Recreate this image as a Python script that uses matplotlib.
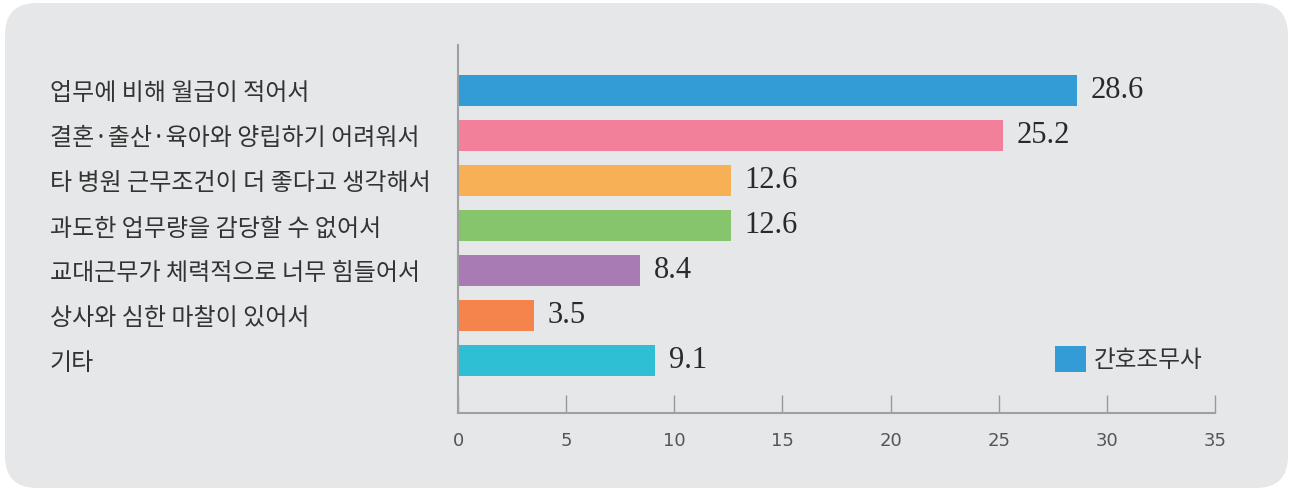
import matplotlib.pyplot as plt
from matplotlib.patches import FancyBboxPatch, Patch

# data
categories = [
    '업무에 비해 월급이 적어서',
    '결혼·출산·육아와 양립하기 어려워서',
    '타 병원 근무조건이 더 좋다고 생각해서',
    '과도한 업무량을 감당할 수 없어서',
    '교대근무가 체력적으로 너무 힘들어서',
    '상사와 심한 마찰이 있어서',
    '기타',
]
values = [28.6, 25.2, 12.6, 12.6, 8.4, 3.5, 9.1]
bar_colors = ['#339bd6', '#f2809b', '#f8b056', '#86c56c', '#a97bb5', '#f4844b', '#2fbfd5']
series_name = '간호조무사'
x_ticks = [0, 5, 10, 15, 20, 25, 30, 35]

W, H = 1290, 490
KR = ['Noto Sans CJK KR', 'DejaVu Sans']

fig = plt.figure(figsize=(W / 100, H / 100), dpi=100)
fig.patch.set_facecolor('white')

# rounded grey panel behind everything
bg = fig.add_axes([0, 0, 1, 1])
bg.set_xlim(0, W)
bg.set_ylim(H, 0)
bg.axis('off')
bg.add_patch(FancyBboxPatch((5, 3), 1283, 485, boxstyle='round,pad=0,rounding_size=32',
                            facecolor='#e6e7e9', edgecolor='none'))

ax = fig.add_axes([458 / W, 1 - 413 / H, (1215 - 458) / W, (413 - 45) / H])
ax.set_facecolor('none')

pos = list(range(len(categories)))
ax.barh(pos, values, height=0.69, color=bar_colors)
for y, v in zip(pos, values):
    ax.text(v + 0.65, y, f'{v:.1f}', va='center', ha='left',
            fontsize=22, family='Liberation Serif', color='#2a2a2a')

ax.set_xlim(0, 35)
ax.set_ylim(len(categories) - 1 + 1.167, -1.01)

ax.set_yticks(pos)
ax.set_yticklabels(categories, ha='left', family=KR, fontsize=17.3, color='#333333')
ax.tick_params(axis='y', length=0, pad=408 * 0.72)

ax.set_xticks(x_ticks)
ax.set_xticklabels([str(t) for t in x_ticks], family='DejaVu Sans', fontsize=13, color='#555555')
ax.tick_params(axis='x', direction='in', length=13, width=1, color='#999999', pad=14)

for side in ['top', 'right']:
    ax.spines[side].set_visible(False)
for side in ['left', 'bottom']:
    ax.spines[side].set_color('#a0a0a0')
    ax.spines[side].set_linewidth(1.5)

leg = ax.legend(handles=[Patch(facecolor=bar_colors[0], edgecolor='none', label=series_name)],
                loc='center left', bbox_to_anchor=(1055 / W, 1 - 359 / H),
                bbox_transform=fig.transFigure, frameon=False, borderpad=0, borderaxespad=0,
                handlelength=1.3, handleheight=1.35, handletextpad=0.35,
                prop={'family': KR, 'size': 17})
for t in leg.get_texts():
    t.set_color('#333333')

fig.savefig('out.png', dpi=100, facecolor='white')
